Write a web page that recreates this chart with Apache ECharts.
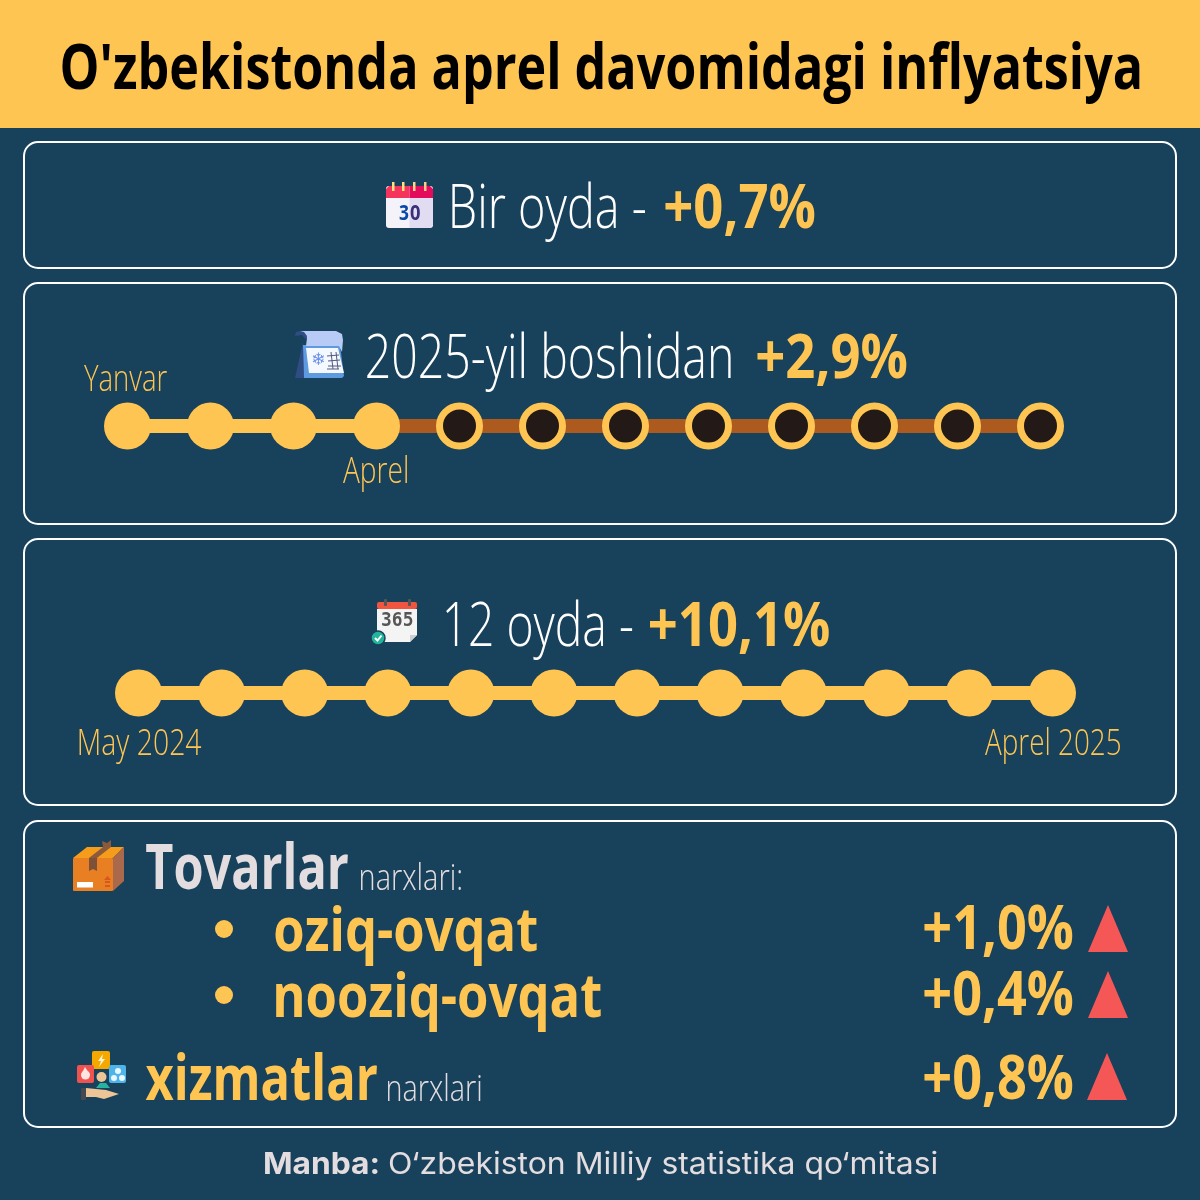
<!DOCTYPE html>
<html><head><meta charset="utf-8">
<style>html,body{margin:0;padding:0;background:#18415B}#c{width:1200px;height:1200px}</style>
<script src="https://cdn.jsdelivr.net/npm/echarts@6/dist/echarts.min.js"></script>
</head><body><div id="c"></div>
<script>
const titleText = "O'zbekistonda aprel davomidagi inflyatsiya";
const oneMonth = "+0,7%";
const ytd = "+2,9%";
const yearOnYear = "+10,1%";
const foodValue = "+1,0%";
const nonFoodValue = "+0,4%";
const servicesValue = "+0,8%";
const ytdMonths = ["Yanvar","Fevral","Mart","Aprel","May","Iyun","Iyul","Avgust","Sentabr","Oktabr","Noyabr","Dekabr"];
const ytdPassed = [1,1,1,1,0,0,0,0,0,0,0,0];
const yoyMonths = ["May 2024","Iyun","Iyul","Avgust","Sentabr","Oktabr","Noyabr","Dekabr","Yanvar","Fevral","Mart","Aprel 2025"];
const yoyPassed = [1,1,1,1,1,1,1,1,1,1,1,1];

const YEL="#FFC552", WHITE="#FFFFFF", BG="#18415B", BROWN="#AD5A1E", DARK="#231A18", RED="#F55757", GREY="#E3DDE0";
const cv=document.createElement('canvas').getContext('2d');
const OS='"Open Sans"';
// fits text ink between x0 and x1 with its baseline at y
function fit(text,x0,x1,y,size,weight,fill,family,off){
  const font=`${weight} ${size}px ${family||OS}`;
  cv.font=font; cv.textBaseline='alphabetic'; cv.textAlign='left';
  const m=cv.measureText(text);
  const ink=m.actualBoundingBoxRight+m.actualBoundingBoxLeft;
  const s=(x1-x0)/ink;
  const mid=(m.fontBoundingBoxAscent-m.fontBoundingBoxDescent)/2;
  const k=off===undefined?0.085:off;
  return {type:'text',x:x0+m.actualBoundingBoxLeft*s,y:y-mid+k*size,scaleX:s,silent:true,z:10,
    style:{text,font,fill,align:'left',verticalAlign:'middle'}};
}
const rect=(x,y,w,h,fill,r)=>({type:'rect',shape:{x,y,width:w,height:h,r:r||0},style:{fill},silent:true,z:5});
const poly=(points,fill)=>({type:'polygon',shape:{points},style:{fill},silent:true,z:5});
const circ=(cx,cy,r,fill,stroke,lw)=>({type:'circle',shape:{cx,cy,r},style:{fill,stroke,lineWidth:lw||0},silent:true,z:6});
const seg=(x1,y1,x2,y2,stroke,lw)=>({type:'line',shape:{x1,y1,x2,y2},style:{stroke,lineWidth:lw||1},silent:true,z:6});
const box=(y0,y1)=>({type:'rect',shape:{x:24,y:y0,width:1152,height:y1-y0,r:14},style:{fill:'transparent',stroke:WHITE,lineWidth:2},silent:true,z:2});
const ctext=(text,x,y,font,fill)=>({type:'text',x,y,silent:true,z:8,style:{text,font,fill,align:'center',verticalAlign:'middle'}});

const icons=[
 // calendar 30
 rect(386,186,47,42,'#F5F3FA',3), poly([[409.5,198],[433,198],[433,225],[430,228],[409.5,228]],'#E1DCF1'),
 poly([[386,198],[386,189],[389,186],[409.5,186],[409.5,198]],'#F5345E'), poly([[409.5,186],[430,186],[433,189],[433,198],[409.5,198]],'#E30B5C'),
 rect(392,182,2.5,9,'#FFE27A'),rect(402,182,2.5,9,'#FFE27A'),rect(413,182,2.5,9,'#FFD58A'),rect(424,182,2.5,9,'#FFC98A'),
 fit('3',399,408.5,221,22,700,'#0B49A8'), fit('0',410,420,221,22,700,'#3B2F7A'),
 // snow calendar
 poly([[303,342],[304,378],[295,378]],'#2F4D84'),
 poly([[303,345],[340,345],[344,376],[342,378],[304,378]],'#5D9AE0'),
 poly([[306,348],[338,348],[344,373],[309,373]],'#F4F8FF'),
 poly([[300,331],[336,331],[342,334],[343,340],[342,352],[339,346],[306,346],[307,338],[303,333]],'#B8CBF6'),
 poly([[295,336],[296,332],[300,331],[304,332],[307,336],[306,340],[302,335]],'#2F4D84'),
 ctext('❄',318,361,'700 17px "DejaVu Sans"','#6F93E8'),
 seg(327,356,339,355,'#555A80',1),seg(328,361,340,360,'#555A80',1),seg(328,366,341,366,'#555A80',1),seg(331,352,333,369,'#555A80',1),seg(336,352,338,369,'#555A80',1),seg(327,369,339,369,'#555A80',1),
 // 365 calendar
 poly([[377,609],[417,609],[417,635],[410,642],[377,642]],'#F4F4F4'), poly([[417,635],[410,642],[410,635]],'#CFCFCF'),
 rect(377,602,40,7,'#F0553F',2), rect(384,599,3,7,'#555555',1), rect(408,599,3,7,'#555555',1),
 fit('365',382,413,628,19,700,'#555555','"DejaVu Sans Mono"',0),
 circ(378,638,7,'#22B59C',BG,1.5),
 {type:'polyline',shape:{points:[[375,638],[377.5,640.5],[381.5,635.5]]},style:{stroke:'#fff',lineWidth:2,fill:null},silent:true,z:7},
 // parcel
 poly([[73,858],[87,847],[124,847],[113,858]],'#F59C1B'),
 poly([[113,858],[124,847],[124,881],[113,891]],'#A9694A'),
 rect(73,858,40,33,'#E87F22',1),
 poly([[89,858],[103,847],[111,847],[97,858]],'#8B5A3C'),
 poly([[103,847],[102,841],[107,843],[111,840],[111,847]],'#8B5A3C'),
 poly([[89,858],[97,858],[97,871],[93,869],[89,871]],'#7C5138'),
 rect(77,882,16,5.5,'#FFFFFF'), rect(105,881,5,2,'#D9571E'), rect(105,885,5,2,'#D9571E'),poly([[104,880],[107.5,876],[111,880]],'#D9571E'),
 // services
 rect(92,1051,18,18,'#F5A800',2), poly([[103,1054],[98,1061],[101,1061],[99,1067],[105,1059],[102,1059]],'#FFF3D0'),
 rect(77,1065,17,18,'#F0524F',2), circ(85.5,1075,4.5,'#FFE5E0'), poly([[81.5,1074],[85,1067],[89.5,1074]],'#FFE5E0'),
 rect(109,1065,17,18,'#4FB5E8',2), circ(118,1071,3,'#EAF7FF'), circ(114,1078,3,'#EAF7FF'), circ(122,1078,3,'#EAF7FF'),
 poly([[96,1088],[100,1083],[106,1083],[110,1088]],'#27B3A2'), circ(101.5,1077,5,'#EDC596'),
 poly([[96.5,1076],[101.5,1072],[106.5,1076]],'#F0A90F'),
 poly([[86,1088],[106,1090],[119,1094],[104,1099],[96,1097],[86,1097]],'#EDC596'),
 rect(81,1088,5,12,'#444A50',1)
];

const texts=[
 fit(titleText,62,1139.5,90,62,700,'#000000'),
 fit('Bir oyda -',452.5,645,229,60,300,WHITE),
 fit(oneMonth,665,815,229,61,700,YEL),
 fit('2025-yil boshidan',367,731,379,60,300,WHITE),
 fit(ytd,757,907,379,61,700,YEL),
 fit('Yanvar',84,167,392,37,300,YEL),
 fit('Aprel',343,407.5,484,37,300,YEL),
 fit('12 oyda -',445.5,632,647,60,300,WHITE),
 fit(yearOnYear,649.5,829.5,647,61,700,YEL),
 fit('May 2024',79,201.5,756,37,300,YEL),
 fit('Aprel 2025',985,1120,756,37,300,YEL),
 fit('Tovarlar',146,348,890,62,700,GREY),
 fit('narxlari:',361,461,890,36,300,GREY),
 fit('oziq-ovqat',275,537,952,61,700,YEL),
 fit('nooziq-ovqat',275.5,601,1018,61,700,YEL),
 fit(foodValue,924,1073,950,61,700,YEL),
 fit(nonFoodValue,924,1073,1016,61,700,YEL),
 fit('xizmatlar',145.5,377,1101,62,700,YEL),
 fit('narxlari',388,481,1101,36,300,GREY),
 fit(servicesValue,924,1073,1100,61,700,YEL),
 fit('Manba:',264,378,1175,30,700,'#E3DDE0','Inter',0.03),
 fit('O‘zbekiston Milliy statistika qo‘mitasi',389,937,1175,30,400,'#E3DDE0','Inter',0.03),
 circ(224,929,9,YEL), circ(224,995,9,YEL),
 poly([[1108,905],[1128,952],[1088,952]],RED),
 poly([[1108,971],[1128,1018],[1088,1018]],RED),
 poly([[1107,1053],[1127,1100],[1087,1100]],RED)
];

const xAxis=(i,d)=>({gridIndex:i,type:'category',data:d,boundaryGap:false,show:false});
const yAxis=i=>({gridIndex:i,type:'value',min:-1,max:1,show:false});
function track(i,cats,passed){
  const last=passed.lastIndexOf(1);
  const done=cats.map((c,k)=>k<=last?0:null);
  const rest=cats.map((c,k)=>k>=last?0:null);
  return [
   {type:'line',xAxisIndex:i,yAxisIndex:i,data:rest,symbol:'none',lineStyle:{color:BROWN,width:14,cap:'butt',opacity:1},z:2,silent:true},
   {type:'line',xAxisIndex:i,yAxisIndex:i,data:done,symbol:'none',lineStyle:{color:YEL,width:14,cap:'butt',opacity:1},z:3,silent:true},
   {type:'scatter',xAxisIndex:i,yAxisIndex:i,silent:true,z:4,
    data:cats.map((c,k)=>({value:[k,0],symbolSize:passed[k]?47:40,
      itemStyle:passed[k]?{color:YEL,opacity:1}:{color:DARK,borderColor:YEL,borderWidth:7,opacity:1}}))}
  ];
}
const chart=echarts.init(document.getElementById('c'),null,{renderer:'canvas',width:1200,height:1200});
chart.setOption({
 animation:false,backgroundColor:BG,tooltip:{show:false},
 grid:[{left:127.5,width:913,top:416,height:20},{left:138.5,width:914,top:683,height:20}],
 xAxis:[xAxis(0,ytdMonths),xAxis(1,yoyMonths)],
 yAxis:[yAxis(0),yAxis(1)],
 series:[...track(0,ytdMonths,ytdPassed),...track(1,yoyMonths,yoyPassed)],
 graphic:{elements:[rect(0,0,1200,128,YEL),box(142,268),box(283,524),box(539,805),box(821,1127),...icons,...texts]}
});
</script></body></html>
